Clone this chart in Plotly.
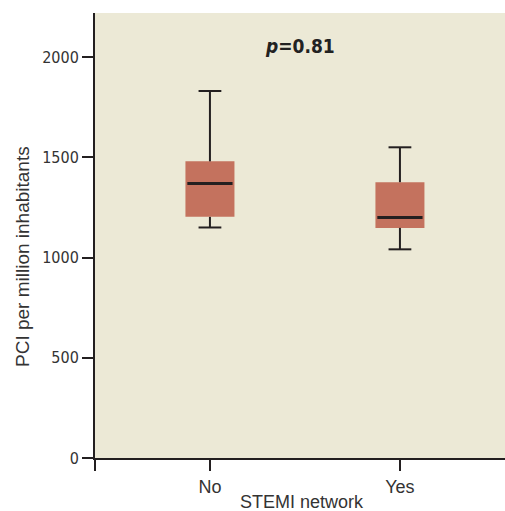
import plotly.graph_objects as go

# Data
categories = ["No", "Yes"]
lower_whisker = [1150, 1041]
q1 = [1203, 1148]
median = [1369, 1200]
q3 = [1480, 1376]
upper_whisker = [1831, 1550]
y_ticks = [0, 500, 1000, 1500, 2000]

BG = "#ECE9D6"
BOX = "#C4725E"
DARK = "#231F20"
NARROW = "DejaVu Sans Condensed, Liberation Sans Narrow, Arial Narrow, sans-serif"
REG = "Liberation Sans, Arial, sans-serif"

xpos = list(range(1, len(categories) + 1))
box_w = 0.258
cap_half = 0.06

fig = go.Figure()

# whiskers (drawn first, under the box)
wx, wy = [], []
for i, x in enumerate(xpos):
    wx += [x, x, None, x, x, None]
    wy += [q3[i], upper_whisker[i], None, q1[i], lower_whisker[i], None]
    wx += [x - cap_half, x + cap_half, None, x - cap_half, x + cap_half, None]
    wy += [upper_whisker[i], upper_whisker[i], None, lower_whisker[i], lower_whisker[i], None]
fig.add_trace(go.Scatter(x=wx, y=wy, mode="lines", line=dict(color=DARK, width=2),
                         hoverinfo="skip", showlegend=False))

# boxes
fig.add_trace(go.Bar(x=xpos, y=[b - a for a, b in zip(q1, q3)], base=q1, width=box_w,
                     marker=dict(color=BOX, line=dict(width=0)), showlegend=False))

# medians
mx, my = [], []
for i, x in enumerate(xpos):
    mx += [x - box_w / 2 + 0.01, x + box_w / 2 - 0.01, None]
    my += [median[i], median[i], None]
fig.add_trace(go.Scatter(x=mx, y=my, mode="lines", line=dict(color=DARK, width=3),
                         hoverinfo="skip", showlegend=False))

W, H = 513, 511
L, T, B = 95, 13, 53
PW, PH = W - L, H - T - B
x_left = 0.395
x_right = 2.553 + 8 / 190

fig.update_layout(
    width=W, height=H,
    margin=dict(l=L, r=0, t=T, b=B),
    paper_bgcolor="white",
    plot_bgcolor=BG,
    showlegend=False,
    xaxis=dict(
        range=[x_left, x_right],
        tickvals=[x_left] + xpos, ticktext=[""] + categories,
        ticks="outside", ticklen=11, tickwidth=2, tickcolor=DARK,
        showline=True, linecolor=DARK, linewidth=2,
        showgrid=False, zeroline=False,
        tickfont=dict(family=REG, size=18, color="#333"),
    ),
    yaxis=dict(
        range=[0, 2220],
        tickvals=y_ticks,
        ticks="outside", ticklen=11, tickwidth=1.5, tickcolor=DARK,
        showline=True, linecolor=DARK, linewidth=2,
        showgrid=False, zeroline=False,
        tickfont=dict(family=NARROW, size=16, color="#333"),
    ),
    annotations=[
        dict(x=(300 - L) / PW, y=(458 - 46) / PH, xref="paper", yref="paper", showarrow=False,
             xanchor="center", yanchor="middle",
             text="<b><i>p</i>=0.81</b>", font=dict(family=NARROW, size=19, color="#222")),
        dict(x=(22 - L) / PW, y=(458 - 257) / PH, xref="paper", yref="paper", showarrow=False,
             xanchor="center", yanchor="middle", textangle=-90,
             text="PCI per million inhabitants", font=dict(family=REG, size=19, color="#333")),
        dict(x=(302 - L) / PW, y=(458 - 502) / PH, xref="paper", yref="paper", showarrow=False,
             xanchor="center", yanchor="middle",
             text="STEMI network", font=dict(family=REG, size=18, color="#333")),
    ],
)

fig.write_html(
    "out.html",
    config={"displayModeBar": False},
    post_script="document.body.style.margin='0';document.body.style.overflow='hidden';",
)
